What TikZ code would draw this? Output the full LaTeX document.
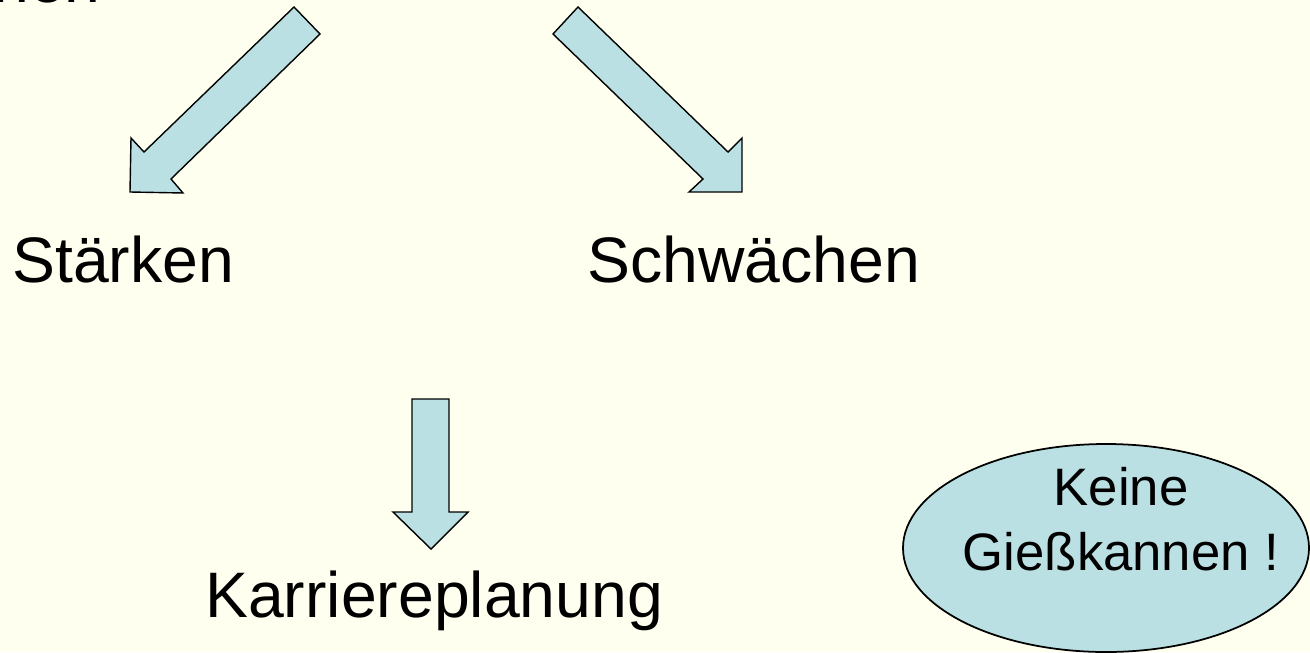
\documentclass[tikz,border=0pt]{standalone}
\usepackage{fontspec}
\setmainfont{Liberation Sans}
\definecolor{bgcol}{RGB}{255,255,240}
\definecolor{arrowfill}{RGB}{187,224,227}
\begin{document}
\begin{tikzpicture}[x=0.02cm,y=-0.02cm,
  blockarrow/.style={draw=black,fill=arrowfill,line width=0.8pt,line join=miter},
  bigtext/.style={inner sep=0pt,anchor=base west,font=\fontsize{36.6}{43}\selectfont},
  ovaltext/.style={inner sep=0pt,align=center,font=\fontsize{30}{37}\selectfont}]
\useasboundingbox (0,0) rectangle (1310,652);
\fill[bgcol] (0,0) rectangle (1310,652);
\begin{scope}
\clip (0,0) rectangle (1310,652);
\node[bigtext,anchor=base east] (cut) at (101,3) {nen};
\end{scope}
% arrows
\draw[blockarrow] (294,7) -- (320,34) -- (171,179) -- (183,193) -- (130,192) -- (131,138) -- (144,152) -- cycle;
\draw[blockarrow] (578,7) -- (728,152) -- (742,138) -- (742,192) -- (689,192) -- (703,179) -- (553,34) -- cycle;
\draw[blockarrow] (412,399) -- (449,399) -- (449,512) -- (468,512) -- (431,549) -- (393,512) -- (412,512) -- cycle;
% labels
\node[bigtext] (staerken) at (12,282) {Stärken};
\node[bigtext] (schwaechen) at (587,282) {Schwächen};
\node[bigtext] (karriere) at (205,617) {Karriereplanung};
% ellipse
\draw[fill=arrowfill,line width=1pt] (1106,548) ellipse [x radius=203, y radius=104];
\node[ovaltext] (keine) at (1121,519) {Keine\\Gießkannen !};
\end{tikzpicture}
\end{document}
